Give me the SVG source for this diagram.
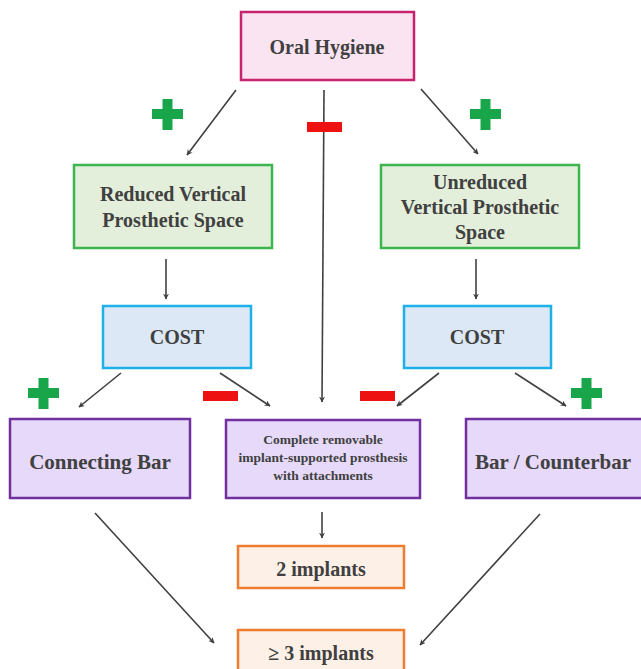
<svg xmlns="http://www.w3.org/2000/svg" width="641" height="669" viewBox="0 0 641 669">
<defs>
<marker id="ah" viewBox="0 0 10 10" refX="9" refY="5" markerWidth="6" markerHeight="6" orient="auto" markerUnits="userSpaceOnUse">
<path d="M0,0 L10,5 L0,10 L3,5 z" fill="#404040"/>
</marker>
<style>
.t{font-family:"Liberation Serif","Times New Roman",serif;font-weight:bold;fill:#404040;text-anchor:middle;dominant-baseline:central}
.pink{fill:#fbe4f1;stroke:#c8236e;stroke-width:2.5}
.green{fill:#e4efdb;stroke:#3cb54f;stroke-width:2.5}
.blue{fill:#dce8f5;stroke:#1db1ea;stroke-width:2.5}
.purple{fill:#e6d9f9;stroke:#7030a0;stroke-width:2.5}
.orange{fill:#fdf0e6;stroke:#ef7d31;stroke-width:2.5}
.c{stroke:#404040;stroke-width:1.6;fill:none;marker-end:url(#ah)}
.plus{fill:#19a64a}
.minus{fill:#ee1111}
</style>
</defs>
<rect width="641" height="669" fill="#ffffff"/>

<g id="connectors">
<line class="c" x1="236" y1="90" x2="187" y2="155"/>
<line class="c" x1="421" y1="89" x2="478" y2="154"/>
<line class="c" x1="324" y1="90" x2="322" y2="402"/>
<line class="c" x1="166" y1="259" x2="166" y2="299"/>
<line class="c" x1="476" y1="259" x2="476" y2="299"/>
<line class="c" x1="121" y1="373" x2="79" y2="407"/>
<line class="c" x1="220" y1="373" x2="270" y2="406"/>
<line class="c" x1="439" y1="373" x2="397" y2="406"/>
<line class="c" x1="515" y1="373" x2="566" y2="406"/>
<line class="c" x1="322" y1="512" x2="322" y2="538"/>
<line class="c" x1="95" y1="513" x2="214" y2="643"/>
<line class="c" x1="540" y1="514" x2="420" y2="645"/>
</g>

<g id="signs">
<rect class="plus" x="152" y="109" width="31" height="10"/>
<rect class="plus" x="162.5" y="99" width="10" height="31"/>
<rect class="plus" x="470" y="109" width="31" height="10"/>
<rect class="plus" x="480.5" y="99" width="10" height="31"/>
<rect class="minus" x="307" y="122" width="35" height="10"/>
<rect class="plus" x="28" y="388" width="31" height="10"/>
<rect class="plus" x="38.5" y="378" width="10" height="31"/>
<rect class="minus" x="203" y="391" width="35" height="10"/>
<rect class="minus" x="360" y="391" width="35" height="10"/>
<rect class="plus" x="571" y="388" width="31" height="10"/>
<rect class="plus" x="581.5" y="378" width="10" height="31"/>
</g>

<g id="oral-hygiene">
<rect class="pink" x="241" y="12" width="173" height="68"/>
<text class="t" x="327" y="47" font-size="20">Oral Hygiene</text>
</g>

<g id="reduced">
<rect class="green" x="74" y="165" width="198" height="83"/>
<text class="t" x="173" y="194" font-size="20">Reduced Vertical</text>
<text class="t" x="173" y="220" font-size="20">Prosthetic Space</text>
</g>

<g id="unreduced">
<rect class="green" x="381" y="165" width="198" height="83"/>
<text class="t" x="480" y="182" font-size="20">Unreduced</text>
<text class="t" x="480" y="207" font-size="20">Vertical Prosthetic</text>
<text class="t" x="480" y="232" font-size="20">Space</text>
</g>

<g id="cost-left">
<rect class="blue" x="103" y="306" width="148" height="62"/>
<text class="t" x="177" y="337" font-size="20">COST</text>
</g>

<g id="cost-right">
<rect class="blue" x="404" y="306" width="147" height="62"/>
<text class="t" x="477" y="337" font-size="20">COST</text>
</g>

<g id="connecting-bar">
<rect class="purple" x="10" y="419" width="180" height="79"/>
<text class="t" x="100" y="462" font-size="21">Connecting Bar</text>
</g>

<g id="complete-removable">
<rect class="purple" x="226" y="420" width="194" height="78"/>
<text class="t" x="323" y="439" font-size="13.5">Complete removable</text>
<text class="t" x="323" y="457" font-size="13.5">implant-supported prosthesis</text>
<text class="t" x="323" y="475" font-size="13.5">with attachments</text>
</g>

<g id="bar-counterbar">
<rect class="purple" x="466" y="419" width="180" height="79"/>
<text class="t" x="553" y="462" font-size="21">Bar / Counterbar</text>
</g>

<g id="two-implants">
<rect class="orange" x="238" y="546" width="166" height="42"/>
<text class="t" x="321" y="569" font-size="20">2 implants</text>
</g>

<g id="three-implants">
<rect class="orange" x="238" y="630" width="166" height="50"/>
<text class="t" x="321" y="653" font-size="20">≥ 3 implants</text>
</g>
</svg>
